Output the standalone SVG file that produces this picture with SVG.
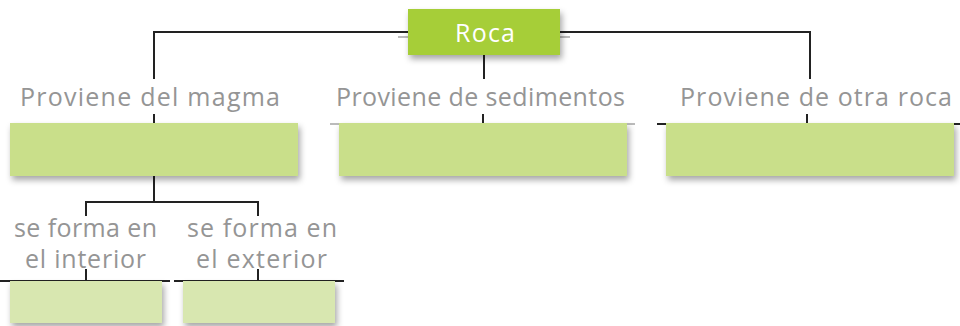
<svg xmlns="http://www.w3.org/2000/svg" width="960" height="326" viewBox="0 0 960 326">
<style>
.ln{stroke:#222;stroke-width:2;fill:none}
.lg{stroke:#bbb;stroke-width:2;fill:none}
.lbl{font-family:"Open Sans","Noto Sans","Liberation Sans",sans-serif;font-size:25px;fill:#959595}
.box{fill:#c9df8a;filter:url(#sh)}
.box2{fill:#d8e7b0;filter:url(#sh)}
</style>
<defs>
<filter id="sh" x="-10%" y="-20%" width="125%" height="160%">
<feDropShadow dx="2" dy="4" stdDeviation="3" flood-color="#000" flood-opacity="0.35"/>
</filter>
</defs>
<g id="connectors">
<polyline class="ln" points="408,32 154,32 154,79"/>
<polyline class="ln" points="560,32 810,32 810,79"/>
<line class="ln" x1="400" y1="32" x2="408" y2="32" stroke-width="3"/>
<line class="ln" x1="560" y1="32" x2="568" y2="32" stroke-width="3"/>
<line class="lg" x1="398" y1="37" x2="408" y2="37"/>
<line class="lg" x1="560" y1="37" x2="570" y2="37"/>
<line class="ln" x1="484" y1="55" x2="484" y2="79" stroke-width="3"/>
<line class="ln" x1="154" y1="114" x2="154" y2="124"/>
<line class="ln" x1="483" y1="114" x2="483" y2="124"/>
<line class="ln" x1="807" y1="114" x2="807" y2="124"/>
<line class="lg" x1="330" y1="124" x2="635" y2="124"/>
<line class="ln" x1="657" y1="124" x2="960" y2="124"/>
<line class="ln" x1="154" y1="176" x2="154" y2="202" stroke-width="3"/>
<polyline class="ln" points="86,216 86,202 258,202 258,216" stroke-width="2.5"/>
<line class="ln" x1="86" y1="269" x2="86" y2="281"/>
<line class="ln" x1="258" y1="269" x2="258" y2="281"/>
<line class="ln" x1="0" y1="281" x2="170" y2="281"/>
<line class="ln" x1="174" y1="281" x2="344" y2="281"/>
</g>
<g id="roca">
<rect x="408" y="9" width="152" height="46" fill="#a6ce39" filter="url(#sh)"/>
<text x="485" y="42" text-anchor="middle" font-family="'Open Sans','Noto Sans','Liberation Sans',sans-serif" font-size="25" fill="#fff" textLength="60" lengthAdjust="spacing">Roca</text>
</g>
<g id="magma">
<text class="lbl" x="20" y="106" textLength="260" lengthAdjust="spacing">Proviene del magma</text>
<rect class="box" x="10" y="123" width="288" height="53"/>
</g>
<g id="sedimentos">
<text class="lbl" x="336" y="106" textLength="289" lengthAdjust="spacing">Proviene de sedimentos</text>
<rect class="box" x="339" y="123" width="288" height="53"/>
</g>
<g id="otra-roca">
<text class="lbl" x="680" y="106" textLength="272" lengthAdjust="spacing">Proviene de otra roca</text>
<rect class="box" x="666" y="123" width="288" height="53"/>
</g>
<g id="interior">
<text class="lbl" x="14" y="237" textLength="143" lengthAdjust="spacing">se forma en</text>
<text class="lbl" x="25" y="268" textLength="121" lengthAdjust="spacing">el interior</text>
<rect class="box2" x="10" y="281" width="152" height="42"/>
</g>
<g id="exterior">
<text class="lbl" x="187" y="237" textLength="150" lengthAdjust="spacing">se forma en</text>
<text class="lbl" x="196" y="268" textLength="131" lengthAdjust="spacing">el exterior</text>
<rect class="box2" x="183" y="281" width="152" height="42"/>
</g>
</svg>
